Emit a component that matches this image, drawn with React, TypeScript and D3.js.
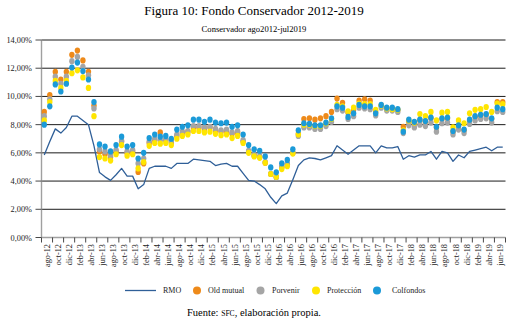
import React from 'react';
import * as d3 from 'd3';

const monthNames = ['ene', 'feb', 'mar', 'abr', 'may', 'jun', 'jul', 'ago', 'sep', 'oct', 'nov', 'dic'];
// categories: ago-12 .. jul-19 (84 months)
const categories: string[] = d3.range(84).map((i) => {
  const m = (7 + i) % 12;
  const yr = 12 + Math.floor((7 + i) / 12);
  return `${monthNames[m]}-${yr}`;
});

const tickLabels = [
  'ago-12', 'oct-12', 'dic-12', 'feb-13', 'abr-13', 'jun-13', 'ago-13', 'oct-13', 'dic-13', 'feb-14', 'abr-14', 'jun-14',
  'ago-14', 'oct-14', 'dic-14', 'feb-15', 'abr-15', 'jun-15', 'ago-15', 'oct-15', 'dic-15', 'feb-16', 'abr-16', 'jun-16',
  'ago-16', 'oct-16', 'dic-16', 'feb-17', 'abr-17', 'jun-17', 'ago-17', 'oct-17', 'dic-17', 'feb-18', 'abr-18', 'jun-18',
  'ago-18', 'oct-18', 'dic-18', 'feb-19', 'abr-19', 'jun-19',
];

const yTicks = [0, 2, 4, 6, 8, 10, 12, 14];

const rmo = [
  5.85, 6.8, 7.7, 7.4, 7.8, 8.6, 8.6, 8.3, 8.0, 6.5, 4.6, 4.3, 4.05, 4.45, 4.9, 4.35, 4.35, 3.45, 3.75, 4.9,
  5.05, 5.05, 5.05, 4.9, 5.25, 5.25, 5.25, 5.55, 5.5, 5.45, 5.4, 5.1, 5.2, 5.25, 5.05, 5.05, 4.55, 4.05, 4.0, 3.75,
  3.45, 2.85, 2.4, 2.95, 3.15, 4.1, 5.1, 5.5, 5.65, 5.6, 5.5, 5.65, 5.8, 6.5, 6.2, 5.9, 6.2, 6.5, 6.5, 6.5,
  6.0, 6.5, 6.35, 6.35, 6.45, 5.55, 5.8, 5.7, 5.85, 5.85, 6.1, 5.55, 6.1, 6.0, 5.4, 5.85, 5.65, 6.1, 6.2, 6.3,
  6.4, 6.15, 6.4, 6.4,
];

const oldMutual = [
  8.9, 10.1, 11.75, 11.2, 11.75, 12.95, 13.25, 12.55, 11.75, 9.35, 6.1, 5.9, 5.7, 6.1, 6.8, 6.0, 6.1, 4.65, 5.25, 6.7,
  6.9, 7.45, 6.9, 6.7, 7.2, 7.4, 7.5, 7.8, 7.8, 7.7, 7.8, 7.6, 7.5, 7.55, 7.35, 7.45, 6.8, 6.1, 5.8, 5.7,
  5.3, 4.5, 4.3, 5.0, 5.2, 6.0, 7.35, 8.4, 8.45, 8.35, 8.45, 8.6, 8.9, 9.85, 9.55, 8.85, 9.05, 9.7, 9.8, 9.7,
  8.9, 9.35, 9.15, 9.1, 9.05, 7.85, 8.2, 8.1, 8.3, 8.2, 8.45, 7.8, 8.4, 8.45, 7.5, 7.9, 7.6, 8.3, 8.55, 8.65,
  8.7, 8.4, 9.6, 9.6,
];

const porvenir = [
  8.6, 9.8, 11.4, 10.9, 11.4, 12.5, 12.8, 12.1, 11.5, 9.15, 6.25, 6.1, 5.8, 6.2, 6.85, 6.1, 6.2, 5.25, 5.6, 6.8,
  7.0, 6.9, 6.95, 6.8, 7.3, 7.5, 7.55, 7.9, 7.9, 7.8, 7.85, 7.7, 7.6, 7.65, 7.45, 7.55, 6.9, 6.15, 5.85, 5.75,
  5.35, 4.5, 4.25, 5.0, 5.2, 6.0, 7.2, 7.8, 7.8, 7.7, 7.7, 7.9, 8.2, 9.1, 9.0, 8.4, 8.6, 9.2, 9.15, 9.1,
  8.65, 9.2, 9.0, 9.0, 8.9, 7.4, 7.95, 7.8, 8.0, 7.9, 8.15, 7.5, 8.1, 8.15, 7.3, 7.65, 7.4, 8.05, 8.3, 8.4,
  8.45, 8.15, 8.95, 8.9,
];

const proteccion = [
  8.3, 9.6, 11.1, 10.6, 11.1, 11.65, 11.85, 11.35, 10.6, 8.6, 5.7, 5.6, 5.45, 5.9, 6.55, 5.8, 5.9, 4.9, 5.35, 6.5,
  6.7, 6.65, 6.7, 6.55, 7.0, 7.2, 7.3, 7.55, 7.55, 7.45, 7.5, 7.35, 7.25, 7.3, 7.05, 7.2, 6.7, 6.0, 5.75, 5.65,
  5.3, 4.5, 4.3, 4.85, 5.05, 5.95, 7.3, 8.0, 8.0, 7.9, 7.9, 8.1, 8.4, 9.4, 9.3, 8.95, 9.2, 9.5, 9.45, 9.45,
  9.05, 9.35, 9.15, 9.1, 9.05, 7.6, 8.3, 8.15, 8.75, 8.6, 8.9, 8.3, 8.85, 8.9, 7.8, 8.3, 8.1, 8.8, 9.05, 9.1,
  9.25, 8.9, 9.5, 9.45,
];

const colfondos = [
  8.0, 9.3, 10.85, 10.35, 10.9, 12.05, 12.4, 11.8, 11.2, 9.6, 6.6, 6.45, 6.1, 6.55, 7.15, 6.45, 6.55, 5.6, 6.0, 7.05,
  7.3, 7.15, 7.2, 7.0, 7.65, 7.85, 7.95, 8.35, 8.35, 8.2, 8.35, 8.15, 8.1, 8.15, 7.85, 7.95, 7.3, 6.55, 6.25, 6.15,
  5.75, 4.97, 4.62, 5.26, 5.5, 6.25, 7.6, 8.1, 8.05, 7.95, 7.95, 8.15, 8.45, 9.3, 9.2, 8.55, 8.8, 9.4, 9.3, 9.3,
  8.8, 9.4, 9.2, 9.2, 9.1, 7.5, 8.35, 8.2, 8.35, 8.25, 8.5, 7.85, 8.45, 8.5, 7.55, 7.95, 7.65, 8.35, 8.6, 8.7,
  8.75, 8.45, 9.2, 9.1,
];

const markerSeries = [
  { name: 'Old mutual', color: '#EE8A1A', values: oldMutual },
  { name: 'Porvenir', color: '#A5A5A5', values: porvenir },
  { name: 'Protección', color: '#FFE500', values: proteccion },
  { name: 'Colfondos', color: '#1B9AD8', values: colfondos },
];

const FONT = '"Liberation Serif", "Times New Roman", serif';

export default function App() {
  const W = 511;
  const H = 323;
  const x0 = 41.5;
  const x1 = 505.5;
  const x = d3.scaleBand<number>().domain(d3.range(categories.length)).range([x0, x1]).padding(0);
  const bw = x.bandwidth();
  const cx = (i: number) => (x(i) as number) + bw / 2;
  const y = d3.scaleLinear().domain([0, 14]).range([237.5, 40]);
  const line = d3
    .line<number>()
    .x((_, i) => cx(i))
    .y((d) => y(d));

  const tickPos = d3.range(0, categories.length + 1, 2).map((k) => (k < categories.length ? (x(k) as number) : x1));

  const legendY = 290.5;

  return (
    <svg
      width={W}
      height={H}
      viewBox={`0 0 ${W} ${H}`}
      style={{ position: 'absolute', left: 0, top: 0, background: '#fff', fontFamily: FONT }}
    >
      <rect x={0} y={0} width={W} height={H} fill="#fff" />
      <text x={254} y={15} textAnchor="middle" fontSize={13} fill="#000">
        Figura 10: Fondo Conservador 2012-2019
      </text>
      <text x={254} y={31.5} textAnchor="middle" fontSize={8.6} fill="#000">
        Conservador ago2012-jul2019
      </text>

      {/* gridlines */}
      {yTicks
        .filter((t) => t > 0)
        .map((t) => (
          <line key={`g${t}`} x1={x0} x2={x1} y1={y(t)} y2={y(t)} stroke="#000" strokeWidth={0.9} />
        ))}

      {/* y axis */}
      <line x1={x0} x2={x0} y1={y(14)} y2={y(0)} stroke="#A0A0A0" strokeWidth={1.4} />
      {yTicks.map((t) => (
        <g key={`yt${t}`}>
          <line x1={x0 - 6} x2={x0} y1={y(t)} y2={y(t)} stroke="#333" strokeWidth={0.9} />
          <text x={32} y={y(t) + 3} textAnchor="end" fontSize={8.3} fill="#222">
            {t.toFixed(2).replace('.', ',')}%
          </text>
        </g>
      ))}

      {/* x axis */}
      <line x1={x0} x2={x1} y1={y(0)} y2={y(0)} stroke="#A0A0A0" strokeWidth={1.6} />
      {tickPos.map((p, k) => (
        <line key={`xt${k}`} x1={p} x2={p} y1={y(0)} y2={y(0) + 5} stroke="#333" strokeWidth={0.9} />
      ))}
      {tickLabels.map((lab, k) => {
        const lx = (x(2 * k) as number) + bw;
        return (
          <text
            key={`xl${k}`}
            transform={`translate(${lx},${244}) rotate(-90)`}
            textAnchor="end"
            dy="0.33em"
            fontSize={8.3}
            fill="#222"
          >
            {lab}
          </text>
        );
      })}

      {/* RMO line */}
      <path d={line(rmo) as string} fill="none" stroke="#2F5F98" strokeWidth={1.3} strokeLinejoin="round" />

      {/* markers */}
      {markerSeries.map((s) => (
        <g key={s.name}>
          {s.values.map((v, i) => (
            <ellipse key={i} cx={cx(i)} cy={y(v)} rx={2.7} ry={3.1} fill={s.color} />
          ))}
        </g>
      ))}

      {/* legend */}
      <line x1={125} x2={156} y1={legendY} y2={legendY} stroke="#2F5F98" strokeWidth={1.3} />
      <text x={163} y={legendY + 2.8} fontSize={8} fill="#222">
        RMO
      </text>
      {markerSeries.map((s, k) => {
        const dots = [197, 260.5, 316, 377];
        const texts = [208, 272, 327, 392];
        return (
          <g key={`lg${k}`}>
            <circle cx={dots[k]} cy={legendY} r={4} fill={s.color} />
            <text x={texts[k]} y={legendY + 2.8} fontSize={8} fill="#222">
              {s.name}
            </text>
          </g>
        );
      })}

      <text x={254} y={316} textAnchor="middle" fontSize={10.5} fill="#000">
        Fuente: <tspan fontSize={7.6}>SFC</tspan>, elaboración propia.
      </text>
    </svg>
  );
}
